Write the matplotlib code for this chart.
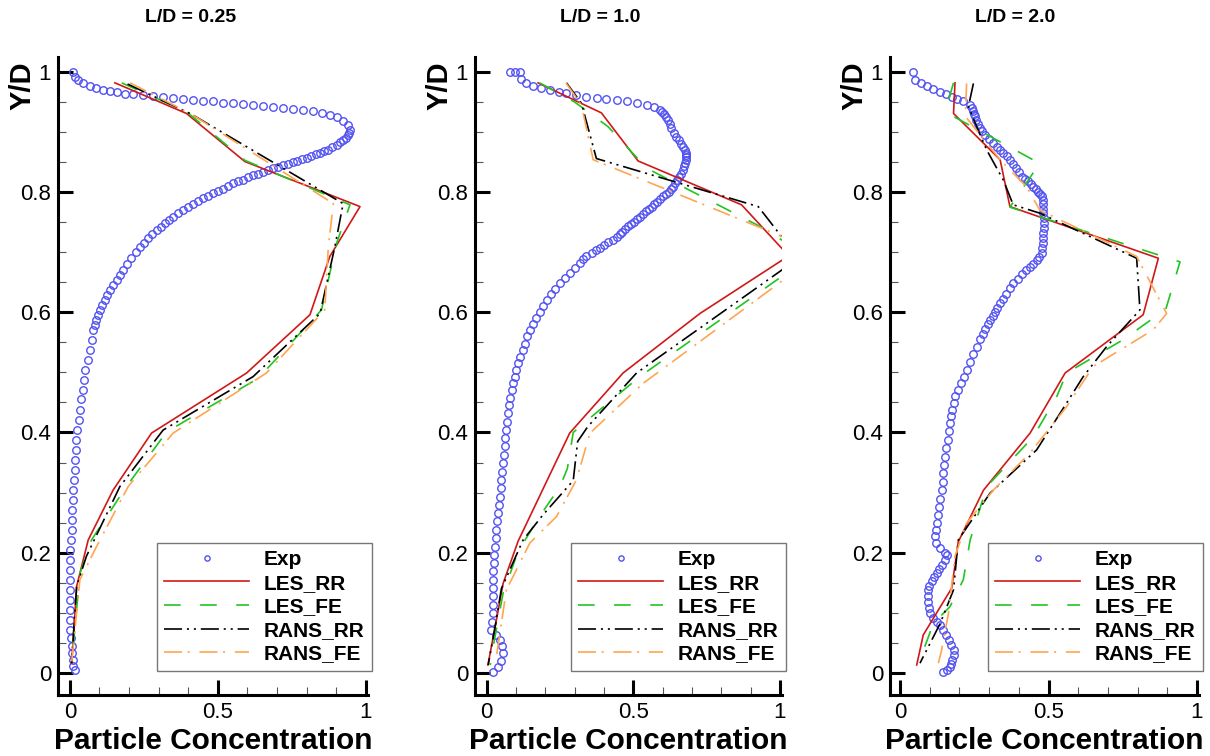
import matplotlib
matplotlib.use('Agg')
import matplotlib.pyplot as plt
from matplotlib.ticker import MultipleLocator

plt.rcParams['font.family'] = ['Liberation Sans', 'DejaVu Sans']
plt.rcParams['lines.scale_dashes'] = False

titles = ['L/D = 0.25', 'L/D = 1.0', 'L/D = 2.0']
series = ['LES_RR', 'LES_FE', 'RANS_RR', 'RANS_FE']

# ---------------- L/D = 0.25 ----------------
exp1_x = [0.010, 0.017, 0.028, 0.045, 0.068, 0.090, 0.113, 0.135, 0.158, 0.186,
          0.214, 0.248, 0.281, 0.315, 0.349, 0.383, 0.417, 0.450, 0.484, 0.518,
          0.552, 0.586, 0.619, 0.653, 0.687, 0.721, 0.754, 0.788, 0.822, 0.850,
          0.878, 0.901, 0.923, 0.940,
          0.946, 0.944, 0.940, 0.932, 0.923, 0.912, 0.901, 0.887, 0.873, 0.859,
          0.845, 0.830, 0.816, 0.800, 0.783, 0.768, 0.754, 0.738, 0.721, 0.704,
          0.687, 0.670, 0.653, 0.636, 0.619, 0.602, 0.586, 0.569, 0.552, 0.535,
          0.518, 0.501, 0.484, 0.467, 0.450, 0.433, 0.417, 0.400, 0.383, 0.366,
          0.349, 0.335, 0.321, 0.307, 0.293, 0.279, 0.265, 0.250, 0.236, 0.222,
          0.208, 0.194, 0.180, 0.169, 0.158, 0.146, 0.135, 0.126, 0.118, 0.109,
          0.101, 0.095, 0.090, 0.084, 0.079, 0.074, 0.068, 0.060, 0.051, 0.047,
          0.043, 0.038, 0.034, 0.030, 0.025, 0.022, 0.020, 0.018, 0.016, 0.013,
          0.011, 0.010, 0.008, 0.007, 0.006, 0.004, 0.002, 0.001, 0.000, 0.000,
          0.000, 0.000, 0.000, 0.000, 0.000, 0.003, 0.006, 0.007, 0.009, 0.012,
          0.017]
exp1_y = [1.000, 0.992, 0.987, 0.981, 0.976, 0.973, 0.970, 0.969, 0.967, 0.964,
          0.963, 0.961, 0.960, 0.958, 0.956, 0.955, 0.953, 0.952, 0.951, 0.949,
          0.948, 0.946, 0.945, 0.943, 0.941, 0.940, 0.938, 0.936, 0.935, 0.932,
          0.929, 0.925, 0.919, 0.912,
          0.903, 0.899, 0.895, 0.891, 0.887, 0.883, 0.879, 0.875, 0.871, 0.868,
          0.866, 0.863, 0.860, 0.857, 0.855, 0.852, 0.850, 0.847, 0.845, 0.842,
          0.840, 0.837, 0.834, 0.831, 0.829, 0.825, 0.821, 0.818, 0.815, 0.810,
          0.806, 0.802, 0.798, 0.794, 0.790, 0.786, 0.781, 0.776, 0.770, 0.765,
          0.759, 0.754, 0.748, 0.742, 0.737, 0.730, 0.723, 0.716, 0.709, 0.700,
          0.690, 0.680, 0.671, 0.662, 0.654, 0.645, 0.637, 0.628, 0.620, 0.612,
          0.604, 0.595, 0.587, 0.579, 0.571, 0.554, 0.537, 0.520, 0.504, 0.488,
          0.471, 0.455, 0.438, 0.421, 0.404, 0.388, 0.371, 0.355, 0.338, 0.321,
          0.304, 0.288, 0.271, 0.255, 0.238, 0.221, 0.205, 0.188, 0.171, 0.155,
          0.138, 0.121, 0.105, 0.088, 0.072, 0.058, 0.044, 0.033, 0.022, 0.012,
          0.005]

les_rr1_x = [0.152, 0.394, 0.591, 0.980, 0.878, 0.811, 0.597, 0.276, 0.146, 0.062, 0.023, 0.006]
les_rr1_y = [0.982, 0.931, 0.851, 0.776, 0.693, 0.596, 0.499, 0.399, 0.304, 0.221, 0.144, 0.016]
les_fe1_x = [0.175, 0.394, 0.591, 0.720, 0.946, 0.901, 0.850, 0.636, 0.327, 0.191, 0.073, 0.034, 0.006]
les_fe1_y = [0.982, 0.934, 0.853, 0.826, 0.779, 0.715, 0.604, 0.490, 0.401, 0.310, 0.221, 0.165, 0.016]
rans_rr1_x = [0.195, 0.410, 0.923, 0.895, 0.845, 0.619, 0.315, 0.169, 0.056, 0.023, 0.006]
rans_rr1_y = [0.980, 0.930, 0.781, 0.709, 0.598, 0.493, 0.404, 0.310, 0.194, 0.144, 0.016]
rans_fe1_x = [0.203, 0.410, 0.890, 0.873, 0.861, 0.664, 0.349, 0.197, 0.090, 0.034, 0.006]
rans_fe1_y = [0.982, 0.930, 0.781, 0.709, 0.604, 0.499, 0.399, 0.310, 0.210, 0.155, 0.016]

# ---------------- L/D = 1.0 ----------------
exp2_x = [0.078, 0.095, 0.113, 0.118, 0.135, 0.158, 0.185, 0.215, 0.245, 0.272,
          0.305, 0.340, 0.375, 0.408, 0.443, 0.477, 0.511, 0.545, 0.570,
          0.590, 0.598, 0.605, 0.612, 0.619, 0.625, 0.630, 0.638, 0.647, 0.655,
          0.662, 0.669, 0.676, 0.679, 0.680, 0.680, 0.679, 0.677, 0.674, 0.670,
          0.664, 0.657, 0.650, 0.643, 0.636, 0.628, 0.620, 0.611, 0.602, 0.592,
          0.582, 0.572, 0.562, 0.552, 0.542, 0.532, 0.522, 0.512, 0.502, 0.493,
          0.483, 0.473, 0.463, 0.453, 0.443, 0.429, 0.415, 0.400, 0.386, 0.372,
          0.358, 0.340, 0.328, 0.317, 0.300, 0.283, 0.266, 0.249, 0.234, 0.220,
          0.206, 0.192, 0.180, 0.168, 0.157, 0.147, 0.138, 0.130, 0.122, 0.113,
          0.106, 0.100, 0.095, 0.090, 0.085, 0.081, 0.077, 0.073, 0.070, 0.067,
          0.064, 0.061, 0.058, 0.055, 0.052, 0.050, 0.047, 0.044, 0.041, 0.039,
          0.036, 0.033, 0.030, 0.027, 0.025, 0.024, 0.023, 0.022, 0.022, 0.022,
          0.022, 0.022, 0.019, 0.016, 0.030, 0.044, 0.053, 0.056, 0.050, 0.039,
          0.022]
exp2_y = [1.000, 1.000, 1.000, 0.988, 0.982, 0.976, 0.973, 0.970, 0.967, 0.965,
          0.962, 0.959, 0.957, 0.955, 0.953, 0.951, 0.948, 0.945, 0.941,
          0.937, 0.933, 0.930, 0.925, 0.920, 0.913, 0.906, 0.899, 0.892, 0.887,
          0.881, 0.876, 0.870, 0.866, 0.862, 0.858, 0.854, 0.849, 0.843, 0.837,
          0.831, 0.826, 0.820, 0.815, 0.809, 0.805, 0.801, 0.797, 0.793, 0.789,
          0.784, 0.780, 0.776, 0.772, 0.768, 0.763, 0.759, 0.755, 0.751, 0.747,
          0.743, 0.739, 0.734, 0.730, 0.726, 0.721, 0.717, 0.712, 0.707, 0.703,
          0.698, 0.693, 0.688, 0.682, 0.674, 0.665, 0.657, 0.648, 0.639, 0.630,
          0.620, 0.610, 0.600, 0.590, 0.580, 0.571, 0.560, 0.548, 0.537, 0.526,
          0.515, 0.504, 0.493, 0.482, 0.470, 0.457, 0.445, 0.432, 0.418, 0.404,
          0.391, 0.377, 0.363, 0.349, 0.335, 0.321, 0.307, 0.293, 0.280, 0.266,
          0.252, 0.238, 0.224, 0.210, 0.196, 0.183, 0.169, 0.155, 0.141, 0.127,
          0.113, 0.099, 0.085, 0.072, 0.063, 0.055, 0.044, 0.033, 0.020, 0.010,
          0.002]

les_rr2_x = [0.175, 0.300, 0.391, 0.516, 0.869, 1.030, 0.727, 0.465, 0.283, 0.107, 0.056, 0.027, 0.004]
les_rr2_y = [0.982, 0.953, 0.932, 0.852, 0.779, 0.694, 0.598, 0.499, 0.399, 0.219, 0.149, 0.072, 0.013]
les_fe2_x = [0.180, 0.300, 0.414, 0.545, 0.932, 1.100, 0.522, 0.330, 0.295, 0.275, 0.250, 0.180,
             0.107, 0.056, 0.022, 0.012]
les_fe2_y = [0.982, 0.950, 0.909, 0.840, 0.743, 0.692, 0.493, 0.415, 0.400, 0.340, 0.310, 0.260,
             0.202, 0.133, 0.044, 0.013]
rans_rr2_x = [0.272, 0.323, 0.374, 0.926, 1.063, 0.511, 0.345, 0.310, 0.295, 0.250, 0.192,
              0.124, 0.050, 0.027, 0.005]
rans_rr2_y = [0.982, 0.948, 0.856, 0.776, 0.690, 0.499, 0.410, 0.385, 0.320, 0.295, 0.263,
              0.221, 0.140, 0.072, 0.013]
rans_fe2_x = [0.270, 0.323, 0.363, 1.140, 0.534, 0.352, 0.306, 0.238, 0.147, 0.067, 0.033]
rans_fe2_y = [0.982, 0.945, 0.854, 0.700, 0.482, 0.399, 0.321, 0.260, 0.216, 0.138, 0.027]

# ---------------- L/D = 2.0 ----------------
exp3_x = [0.045, 0.050, 0.070, 0.090, 0.112, 0.135, 0.155, 0.174, 0.193, 0.213,
          0.236, 0.241, 0.245, 0.249, 0.253, 0.257, 0.262, 0.268, 0.275, 0.287,
          0.300, 0.312, 0.325, 0.336, 0.348, 0.359, 0.370, 0.380, 0.390, 0.400,
          0.410, 0.420, 0.430, 0.440, 0.449, 0.457, 0.465, 0.471, 0.477, 0.480,
          0.482, 0.483, 0.483, 0.484, 0.484, 0.484, 0.483, 0.482, 0.481, 0.479,
          0.477, 0.469, 0.460, 0.449, 0.438, 0.424, 0.410, 0.396, 0.381, 0.370,
          0.358, 0.348, 0.337, 0.328, 0.320, 0.312, 0.303, 0.295, 0.286, 0.278,
          0.269, 0.258, 0.247, 0.236, 0.225, 0.215, 0.205, 0.195, 0.185, 0.180,
          0.176, 0.172, 0.168, 0.164, 0.160, 0.156, 0.152, 0.149, 0.146, 0.143,
          0.140, 0.136, 0.132, 0.128, 0.124, 0.120, 0.118, 0.120, 0.135, 0.150,
          0.157, 0.150, 0.140, 0.131, 0.124, 0.114, 0.106, 0.099, 0.095, 0.094,
          0.095, 0.097, 0.101, 0.110, 0.124, 0.135, 0.146, 0.156, 0.165, 0.173,
          0.180, 0.180, 0.176, 0.172, 0.168, 0.157, 0.146]
exp3_y = [1.000, 0.987, 0.981, 0.976, 0.971, 0.967, 0.963, 0.959, 0.955, 0.951,
          0.945, 0.940, 0.935, 0.930, 0.926, 0.920, 0.913, 0.907, 0.901, 0.895,
          0.888, 0.882, 0.876, 0.870, 0.865, 0.860, 0.854, 0.847, 0.840, 0.833,
          0.826, 0.822, 0.818, 0.813, 0.809, 0.805, 0.801, 0.797, 0.793, 0.787,
          0.780, 0.772, 0.765, 0.757, 0.748, 0.740, 0.732, 0.724, 0.715, 0.707,
          0.698, 0.692, 0.687, 0.681, 0.676, 0.670, 0.663, 0.656, 0.648, 0.640,
          0.631, 0.623, 0.615, 0.608, 0.601, 0.594, 0.587, 0.580, 0.572, 0.564,
          0.556, 0.543, 0.530, 0.517, 0.504, 0.493, 0.482, 0.471, 0.460, 0.449,
          0.438, 0.427, 0.415, 0.402, 0.388, 0.374, 0.360, 0.346, 0.332, 0.318,
          0.304, 0.290, 0.276, 0.262, 0.249, 0.238, 0.227, 0.216, 0.208, 0.200,
          0.196, 0.188, 0.180, 0.173, 0.166, 0.159, 0.152, 0.145, 0.138, 0.128,
          0.118, 0.108, 0.099, 0.092, 0.085, 0.079, 0.072, 0.063, 0.055, 0.046,
          0.038, 0.030, 0.022, 0.015, 0.010, 0.005, 0.002]

les_rr3_x = [0.185, 0.180, 0.337, 0.370, 0.870, 0.819, 0.556, 0.438, 0.281, 0.196, 0.174, 0.078, 0.056]
les_rr3_y = [0.982, 0.931, 0.854, 0.776, 0.690, 0.596, 0.499, 0.399, 0.304, 0.218, 0.141, 0.063, 0.013]
les_fe3_x = [0.180, 0.163, 0.180, 0.470, 0.370, 0.943, 0.895, 0.750, 0.561, 0.528, 0.449, 0.292,
             0.236, 0.213, 0.168, 0.112, 0.067]
les_fe3_y = [0.982, 0.953, 0.926, 0.848, 0.775, 0.684, 0.605, 0.554, 0.499, 0.460, 0.393, 0.310,
             0.221, 0.155, 0.110, 0.082, 0.022]
rans_rr3_x = [0.247, 0.230, 0.292, 0.348, 0.381, 0.471, 0.797, 0.808, 0.696, 0.617, 0.561, 0.460,
              0.303, 0.196, 0.180, 0.135, 0.067]
rans_rr3_y = [0.981, 0.942, 0.870, 0.820, 0.779, 0.765, 0.690, 0.604, 0.543, 0.493, 0.449, 0.371,
              0.299, 0.221, 0.138, 0.082, 0.016]
rans_fe3_x = [0.224, 0.220, 0.337, 0.426, 0.471, 0.797, 0.898, 0.853, 0.651, 0.561, 0.438, 0.314,
              0.224, 0.185, 0.163, 0.140, 0.129]
rans_fe3_y = [0.981, 0.926, 0.854, 0.809, 0.770, 0.693, 0.598, 0.571, 0.510, 0.443, 0.366, 0.304,
              0.249, 0.194, 0.099, 0.038, 0.016]

panels = [
    (exp1_x, exp1_y, [(les_rr1_x, les_rr1_y), (les_fe1_x, les_fe1_y),
                      (rans_rr1_x, rans_rr1_y), (rans_fe1_x, rans_fe1_y)]),
    (exp2_x, exp2_y, [(les_rr2_x, les_rr2_y), (les_fe2_x, les_fe2_y),
                      (rans_rr2_x, rans_rr2_y), (rans_fe2_x, rans_fe2_y)]),
    (exp3_x, exp3_y, [(les_rr3_x, les_rr3_y), (les_fe3_x, les_fe3_y),
                      (rans_rr3_x, rans_rr3_y), (rans_fe3_x, rans_fe3_y)]),
]

styles = [
    dict(color='#d01818', linestyle='-'),
    dict(color='#22c422', dashes=(12, 14)),
    dict(color='black', dashes=(13, 3.5, 1.5, 3.5, 1.5, 3.5)),
    dict(color='#ffa552', dashes=(13, 4, 1.5, 7)),
]

fig = plt.figure(figsize=(12.1, 7.56), dpi=100)

# axes boxes in figure pixels (left, right)
boxes = [(58, 368), (475, 782), (890, 1199)]
title_x = [191, 600, 1015]
W, H = 1210, 756
top_px, bot_px = 57, 695

for i, (ex, ey, lines) in enumerate(panels):
    l, r = boxes[i]
    ax = fig.add_axes([l / W, 1 - bot_px / H, (r - l) / W, (bot_px - top_px) / H])
    ax.plot(ex, ey, linestyle='none', marker='o', mfc='none', mec='#5252f0',
            ms=5.4, mew=1.0, label='Exp', zorder=2)
    for (lx, ly), name, st in zip(lines, series, styles):
        ax.plot(lx, ly, lw=1.2, label=name, zorder=3, **st)

    ax.set_xlim(-0.04 if i < 2 else -0.034, 1.007)
    ax.set_ylim(-0.037, 1.025)
    for s in ['top', 'right']:
        ax.spines[s].set_visible(False)
    for s in ['left', 'bottom']:
        ax.spines[s].set_linewidth(2.2)

    ax.xaxis.set_minor_locator(MultipleLocator(0.1))
    ax.yaxis.set_minor_locator(MultipleLocator(0.05))
    ax.set_xticks([0, 0.5, 1])
    ax.set_xticklabels(['0', '0.5', '1'])
    ax.set_yticks([0, 0.2, 0.4, 0.6, 0.8, 1])
    ax.set_yticklabels(['0', '0.2', '0.4', '0.6', '0.8', '1'])
    ax.tick_params(which='major', direction='in', length=11, width=2.2,
                   labelsize=16, pad=5)
    ax.tick_params(which='minor', direction='in', length=6, width=0.8,
                   color='#555555')

    ax.text(0.5, -0.072, 'Particle Concentration', transform=ax.transAxes,
            ha='center', va='center', fontsize=21.5, fontweight='bold')
    ax.text(-0.115, 0.955, 'Y/D', transform=ax.transAxes, rotation=90,
            ha='center', va='center', fontsize=21, fontweight='bold')

    leg = ax.legend(loc='lower right', bbox_to_anchor=(1.013, 0.038),
                    borderaxespad=0, fancybox=False, edgecolor='#777777',
                    framealpha=1, handlelength=4.1, handletextpad=0.7,
                    labelspacing=0.22, borderpad=0.35, markerscale=0.7,
                    prop={'weight': 'bold', 'size': 15})
    leg.get_frame().set_linewidth(1.0)

    fig.text(title_x[i] / W, 1 - 18 / H, titles[i], ha='center', va='center',
             fontsize=14, fontweight='bold')

fig.savefig('out.png', dpi=100)
